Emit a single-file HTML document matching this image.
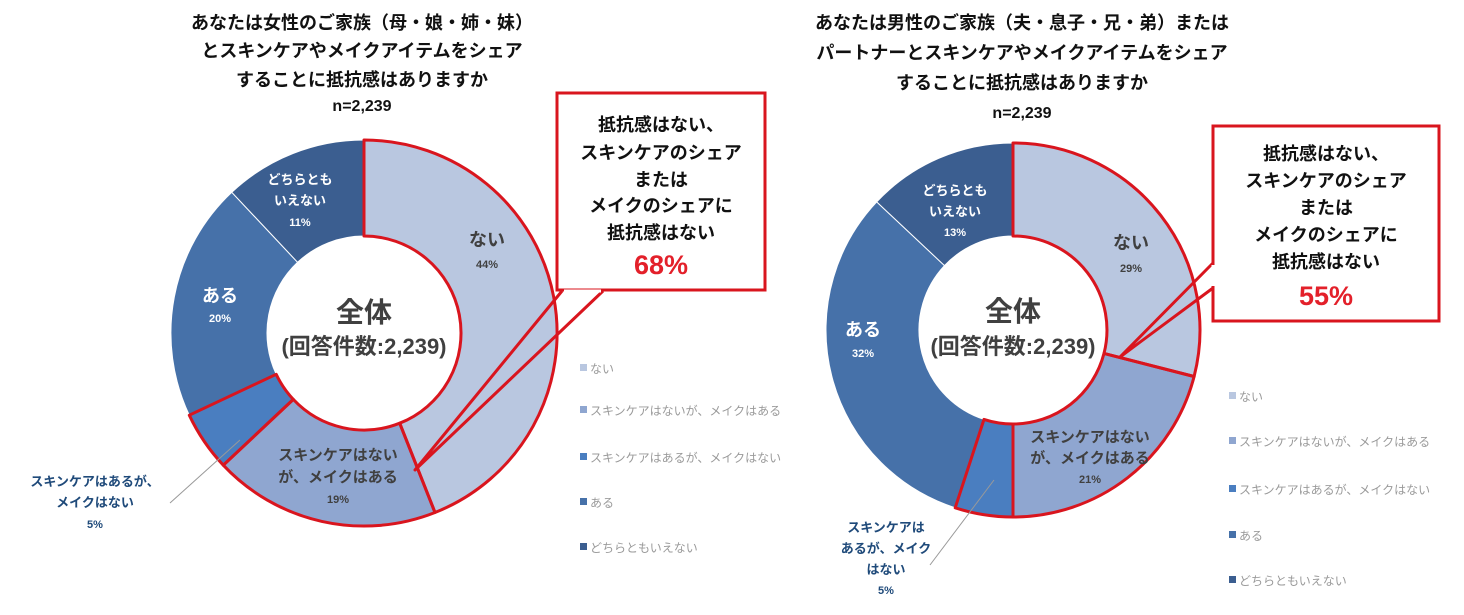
<!DOCTYPE html>
<html><head><meta charset="utf-8"><style>
html,body{margin:0;padding:0;background:#fff;}
svg{display:block;font-family:"Liberation Sans","Noto Sans CJK JP",sans-serif;}
</style></head><body>
<svg width="1464" height="615" viewBox="0 0 1464 615" xmlns="http://www.w3.org/2000/svg">
<!-- Titles -->
<g font-weight="bold" font-size="18" fill="#111" text-anchor="middle">
<text x="362" y="29">あなたは女性のご家族（母・娘・姉・妹）</text>
<text x="362" y="57">とスキンケアやメイクアイテムをシェア</text>
<text x="362" y="86">することに抵抗感はありますか</text>
<text x="362" y="111" font-size="16">n=2,239</text>
<text x="1022" y="29">あなたは男性のご家族（夫・息子・兄・弟）または</text>
<text x="1022" y="59">パートナーとスキンケアやメイクアイテムをシェア</text>
<text x="1022" y="89">することに抵抗感はありますか</text>
<text x="1022" y="118" font-size="16">n=2,239</text>
</g>

<!-- Left donut -->
<g stroke="#fff" stroke-width="1">
<path d="M364,140 A193,193 0 0 1 435,512.5 L399.7,423.2 A97,97 0 0 0 364,236 Z" fill="#b9c7e0"/>
<path d="M435,512.5 A193,193 0 0 1 223.3,465.2 L293.3,399.4 A97,97 0 0 0 399.7,423.2 Z" fill="#8fa6d0"/>
<path d="M223.3,465.2 A193,193 0 0 1 189.3,415.2 L276.2,374.3 A97,97 0 0 0 293.3,399.4 Z" fill="#4a7ec0"/>
<path d="M189.3,415.2 A193,193 0 0 1 231.8,192.3 L297.6,262.3 A97,97 0 0 0 276.2,374.3 Z" fill="#4671a9"/>
<path d="M231.8,192.3 A193,193 0 0 1 364,140 L364,236 A97,97 0 0 0 297.6,262.3 Z" fill="#3b5e90"/>
</g>
<g fill="none" stroke="#d9151e" stroke-width="3" stroke-linejoin="round">
<path d="M364,140 A193,193 0 0 1 435,512.5 L399.7,423.2 A97,97 0 0 0 364,236 Z"/>
<path d="M435,512.5 A193,193 0 0 1 223.3,465.2 L293.3,399.4 A97,97 0 0 0 399.7,423.2 Z"/>
<path d="M223.3,465.2 A193,193 0 0 1 189.3,415.2 L276.2,374.3 A97,97 0 0 0 293.3,399.4 Z"/>
</g>
<!-- Right donut -->
<g stroke="#fff" stroke-width="1">
<path d="M1013,143 A187,187 0 0 1 1194.1,376.5 L1104,353.4 A94,94 0 0 0 1013,236 Z" fill="#b9c7e0"/>
<path d="M1194.1,376.5 A187,187 0 0 1 1013,517 L1013,424 A94,94 0 0 0 1104,353.4 Z" fill="#8fa6d0"/>
<path d="M1013,517 A187,187 0 0 1 955.2,507.8 L984,419.4 A94,94 0 0 0 1013,424 Z" fill="#4a7ec0"/>
<path d="M955.2,507.8 A187,187 0 0 1 876.7,201.9 L944.5,265.6 A94,94 0 0 0 984,419.4 Z" fill="#4671a9"/>
<path d="M876.7,201.9 A187,187 0 0 1 1013,143 L1013,236 A94,94 0 0 0 944.5,265.6 Z" fill="#3b5e90"/>
</g>
<g fill="none" stroke="#d9151e" stroke-width="3" stroke-linejoin="round">
<path d="M1013,143 A187,187 0 0 1 1194.1,376.5 L1104,353.4 A94,94 0 0 0 1013,236 Z"/>
<path d="M1194.1,376.5 A187,187 0 0 1 1013,517 L1013,424 A94,94 0 0 0 1104,353.4 Z"/>
<path d="M1013,517 A187,187 0 0 1 955.2,507.8 L984,419.4 A94,94 0 0 0 1013,424 Z"/>
</g>

<!-- Callouts -->
<rect x="557" y="93" width="208" height="197" fill="#fff" stroke="#d9151e" stroke-width="3"/>
<polyline points="562,291 415,470 603,291" fill="none" stroke="#d9151e" stroke-width="3" stroke-linejoin="round"/>
<line x1="564" y1="291" x2="601" y2="291" stroke="#fff" stroke-width="3"/>
<rect x="1213" y="126" width="226" height="195" fill="#fff" stroke="#d9151e" stroke-width="3"/>
<polyline points="1213,263 1120,357 1213,288" fill="none" stroke="#d9151e" stroke-width="3" stroke-linejoin="round"/>
<line x1="1213" y1="265" x2="1213" y2="286" stroke="#fff" stroke-width="3"/>
<g font-weight="bold" font-size="18" fill="#111" text-anchor="middle">
<text x="661" y="131">抵抗感はない、</text>
<text x="661" y="159">スキンケアのシェア</text>
<text x="661" y="186">または</text>
<text x="661" y="212">メイクのシェアに</text>
<text x="661" y="239">抵抗感はない</text>
<text x="661" y="274" font-size="27" fill="#e3202a">68%</text>
<text x="1326" y="160">抵抗感はない、</text>
<text x="1326" y="187">スキンケアのシェア</text>
<text x="1326" y="214">または</text>
<text x="1326" y="241">メイクのシェアに</text>
<text x="1326" y="268">抵抗感はない</text>
<text x="1326" y="305" font-size="27" fill="#e3202a">55%</text>
</g>

<!-- Center labels -->
<g font-weight="bold" fill="#404040" text-anchor="middle">
<text x="364" y="322" font-size="28">全体</text>
<text x="364" y="354" font-size="22">(回答件数:2,239)</text>
<text x="1013" y="321" font-size="28">全体</text>
<text x="1013" y="354" font-size="22">(回答件数:2,239)</text>
</g>

<!-- Slice labels -->
<g font-weight="bold" text-anchor="middle">
<g fill="#404040">
<text x="487" y="246" font-size="18">ない</text>
<text x="487" y="268" font-size="11">44%</text>
<text x="338" y="460" font-size="15">スキンケアはない</text>
<text x="338" y="482" font-size="15">が、メイクはある</text>
<text x="338" y="503" font-size="11">19%</text>
<text x="1131" y="249" font-size="18">ない</text>
<text x="1131" y="272" font-size="11">29%</text>
<text x="1090" y="442" font-size="15">スキンケアはない</text>
<text x="1090" y="463" font-size="15">が、メイクはある</text>
<text x="1090" y="483" font-size="11">21%</text>
</g>
<g fill="#fff">
<text x="300" y="184" font-size="13">どちらとも</text>
<text x="300" y="205" font-size="13">いえない</text>
<text x="300" y="226" font-size="11">11%</text>
<text x="220" y="302" font-size="18">ある</text>
<text x="220" y="322" font-size="11">20%</text>
<text x="955" y="195" font-size="13">どちらとも</text>
<text x="955" y="216" font-size="13">いえない</text>
<text x="955" y="236" font-size="11">13%</text>
<text x="863" y="336" font-size="18">ある</text>
<text x="863" y="357" font-size="11">32%</text>
</g>
<g fill="#1f4a7a">
<text x="95" y="486" font-size="13">スキンケアはあるが、</text>
<text x="95" y="507" font-size="13">メイクはない</text>
<text x="95" y="528" font-size="11">5%</text>
<text x="886" y="532" font-size="13">スキンケアは</text>
<text x="886" y="553" font-size="13">あるが、メイク</text>
<text x="886" y="574" font-size="13">はない</text>
<text x="886" y="594" font-size="11">5%</text>
</g>
</g>
<line x1="170" y1="503" x2="240" y2="440" stroke="#999" stroke-width="1"/>
<line x1="930" y1="565" x2="994" y2="480" stroke="#999" stroke-width="1"/>

<!-- Legends -->
<g font-size="12" fill="#9a9a9a">
<rect x="580" y="364" width="7" height="7" fill="#b9c7e0"/><text x="590" y="373">ない</text>
<rect x="580" y="406" width="7" height="7" fill="#8fa6d0"/><text x="590" y="415">スキンケアはないが、メイクはある</text>
<rect x="580" y="453" width="7" height="7" fill="#4a7ec0"/><text x="590" y="462">スキンケアはあるが、メイクはない</text>
<rect x="580" y="498" width="7" height="7" fill="#4671a9"/><text x="590" y="507">ある</text>
<rect x="580" y="543" width="7" height="7" fill="#3b5e90"/><text x="590" y="552">どちらともいえない</text>
<rect x="1229" y="392" width="7" height="7" fill="#b9c7e0"/><text x="1239" y="401">ない</text>
<rect x="1229" y="437" width="7" height="7" fill="#8fa6d0"/><text x="1239" y="446">スキンケアはないが、メイクはある</text>
<rect x="1229" y="485" width="7" height="7" fill="#4a7ec0"/><text x="1239" y="494">スキンケアはあるが、メイクはない</text>
<rect x="1229" y="531" width="7" height="7" fill="#4671a9"/><text x="1239" y="540">ある</text>
<rect x="1229" y="576" width="7" height="7" fill="#3b5e90"/><text x="1239" y="585">どちらともいえない</text>
</g>
</svg>
</body></html>
